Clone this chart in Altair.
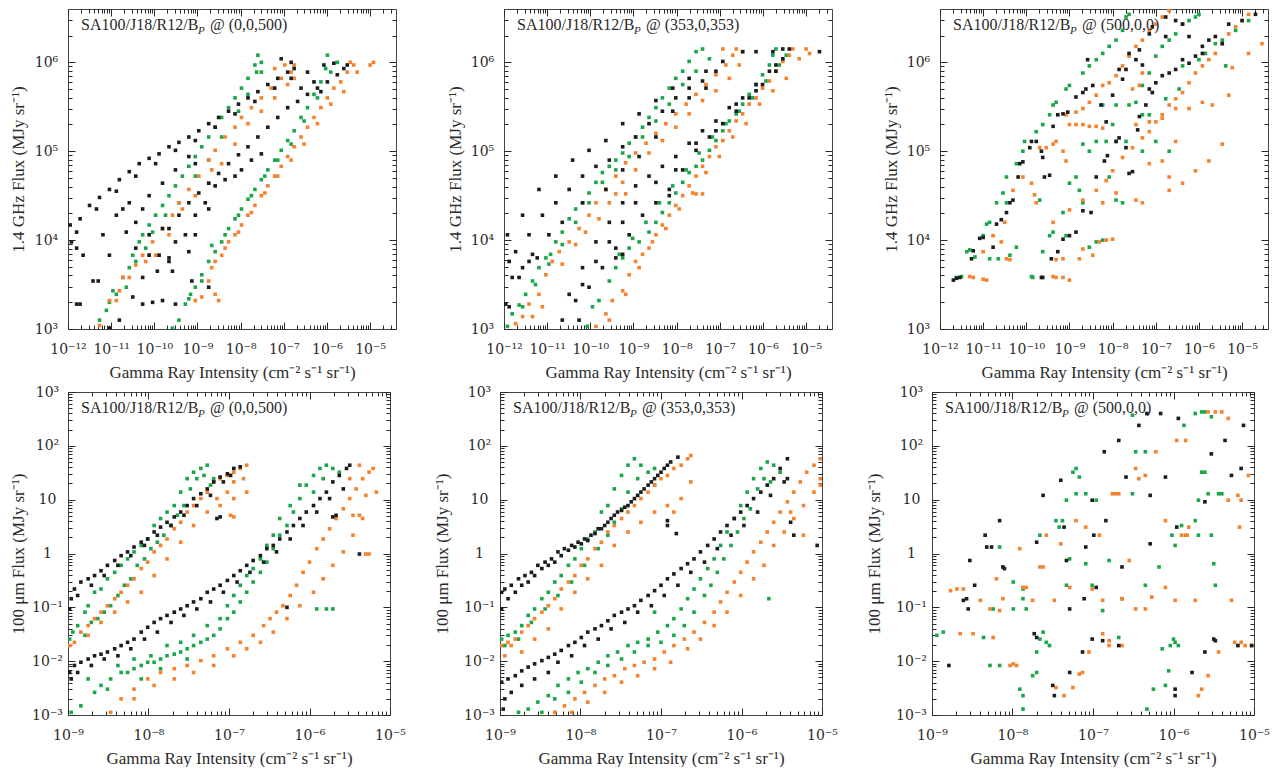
import math
import altair as alt
import pandas as pd

FONT = "Liberation Serif"
TICK_FONT = "DejaVu Serif"
INK = "#2a2a2a"
SERIES = ["green", "orange", "black"]
PALETTE = ["#1ba64c", "#f5822f", "#1c1c1c"]

TOP_X = (-12.0, -4.4)
TOP_Y = (3.0, 6.6)
BOT_X = (-9.0, -5.0)
BOT_Y = (-3.0, 3.0)

X_TITLE = "Gamma Ray Intensity (cm⁻² s⁻¹ sr⁻¹)"
RADIO_TITLE = "1.4 GHz Flux (MJy sr⁻¹)"
IR_TITLE = "100 μm Flux (MJy sr⁻¹)"
OBSERVERS = ["(0,0,500)", "(353,0,353)", "(500,0,0)"]

# ---- data: (log10 gamma-ray intensity, log10 flux) ----
tl_black = [(-11.95,4.17),(-11.72,4.24),(-11.50,4.39),(-11.27,4.48),(-11.04,4.57),(-10.81,4.68),(-10.58,4.77),(-10.35,4.86),(-10.12,4.92),(-9.89,4.97),(-9.66,5.05),(-9.43,5.10),(-9.20,5.16),(-8.97,5.23),(-8.74,5.31),(-8.51,5.38),(-8.28,5.45),(-8.05,5.53),(-7.83,5.60),(-7.60,5.67),(-7.37,5.75),(-7.14,5.82),(-6.91,5.89),(-6.76,5.93),
 (-11.80,4.09),(-11.34,4.35),(-10.88,4.55),(-10.43,4.72),(-9.97,4.86),(-9.51,5.01),(-9.05,5.12),(-8.59,5.27),(-8.13,5.42),(-7.67,5.56),(-7.21,5.71),(-6.83,5.82),
 (-11.92,3.98),(-11.80,3.91),(-11.65,3.83),(-11.19,4.06),(-11.04,3.83),(-10.88,4.28),(-10.73,4.35),(-10.58,4.42),(-10.43,4.20),(-10.27,4.35),(-10.12,4.50),(-9.81,4.64),(-9.51,4.79),(-9.20,4.94),(-9.05,4.86),(-10.43,3.91),(-10.12,3.83),(-9.89,3.83),(-9.66,3.76),(-10.12,4.06),(-9.81,4.13),(-10.65,4.09),
 (-11.80,3.28),(-11.72,3.28),(-11.42,3.54),(-11.30,3.54),(-10.81,3.10),(-10.50,3.36),(-10.27,3.28),(-10.04,3.30),(-9.81,3.32),(-9.51,3.28),(-10.27,3.58),(-9.93,3.65),(-9.66,3.80),(-9.28,4.06),(-9.20,3.87),(-11.04,3.01),
 (-9.66,4.13),(-9.43,4.28),(-9.20,4.42),(-8.97,4.53),(-8.74,4.64),(-8.51,4.75),(-8.28,4.86),(-8.05,4.96),(-7.83,5.05),(-7.60,5.16),(-7.37,5.27),(-7.14,5.38),(-6.91,5.49),(-6.68,5.56),(-6.45,5.64),(-6.22,5.71),(-5.99,5.78),(-5.76,5.86),(-5.61,5.93),(-5.53,5.97),
 (-8.36,4.68),(-8.13,4.72),(-7.98,4.79),(-7.75,4.90),(-7.52,4.97),(-8.59,4.61),(-8.82,4.42),(-9.05,4.28),
 (-9.51,3.98),(-9.05,4.06),(-8.74,4.35),(-9.58,3.65),(-9.13,3.54),(-8.74,3.47),
 (-6.45,5.89),(-6.07,5.97),(-5.84,5.99),(-6.14,5.67),(-6.60,5.71),(-6.30,5.78),(-7.06,6.04),(-6.83,6.00)]
tl_green = [(-11.27,3.10),(-11.11,3.21),(-11.04,3.30),(-10.88,3.39),(-10.73,3.58),(-10.58,3.69),(-10.50,3.83),(-10.35,3.98),(-10.27,4.06),(-10.12,4.17),(-9.97,4.28),(-9.81,4.39),(-9.66,4.50),(-9.51,4.61),(-9.35,4.72),(-9.20,4.83),(-9.05,4.94),(-8.90,5.05),(-8.74,5.16),(-8.59,5.27),(-8.44,5.38),(-8.28,5.49),(-8.13,5.60),(-7.98,5.71),(-7.83,5.82),(-7.67,5.97),(-7.60,6.08),
 (-10.96,3.43),(-10.65,3.47),(-10.43,3.76),(-10.20,3.91),(-10.04,4.09),(-9.74,4.28),(-9.43,4.42),(-9.05,4.72),(-8.74,4.90),(-8.44,5.16),(-8.05,5.45),(-7.83,5.64),(-7.52,5.89),(-7.52,6.00),(-7.63,5.89),
 (-9.58,3.01),(-9.43,3.10),(-9.28,3.28),(-9.16,3.39),(-9.05,3.47),(-8.90,3.61),(-8.74,3.76),(-8.59,3.87),(-8.44,3.98),(-8.28,4.13),(-8.13,4.24),(-7.98,4.35),(-7.83,4.46),(-7.67,4.57),(-7.52,4.68),(-7.37,4.79),(-7.21,4.90),(-7.06,5.01),(-6.91,5.12),(-6.76,5.23),(-6.60,5.38),(-6.45,5.49),(-6.30,5.64),(-6.14,5.78),(-6.03,5.93),(-5.99,6.08),
 (-8.67,3.94),(-8.36,4.06),(-8.05,4.28),(-7.75,4.50),(-7.44,4.72),(-7.14,4.90),(-6.83,5.08),(-6.53,5.34),(-6.22,5.60),(-5.91,5.89),(-5.76,6.00),(-9.20,3.34),(-8.90,3.54)]
tl_orange = [(-11.27,3.04),(-11.04,3.32),(-10.81,3.43),(-10.58,3.58),(-10.43,3.72),(-10.27,3.83),(-10.04,3.98),(-9.81,4.13),(-9.58,4.28),(-9.43,4.42),(-9.20,4.57),(-8.97,4.72),(-8.74,4.90),(-8.59,5.01),(-8.36,5.16),(-8.13,5.27),(-7.98,5.38),(-7.75,5.49),(-7.52,5.60),(-7.29,5.71),(-7.06,5.82),(-6.83,5.89),(-6.76,5.97),
 (-10.88,3.32),(-10.73,3.58),(-10.20,3.76),(-9.97,3.83),(-9.66,4.06),(-9.35,4.35),(-9.05,4.50),(-8.67,4.79),(-8.44,4.86),(-8.13,5.08),(-7.83,5.31),(-7.52,5.45),(-7.21,5.60),(-6.91,5.75),(-6.76,5.82),(-6.98,5.97),(-7.21,5.93),(-8.74,4.64),(-9.89,3.83),(-10.12,3.83),
 (-9.05,3.32),(-8.90,3.36),(-8.74,3.54),(-8.59,3.76),(-8.44,3.83),(-8.28,3.98),(-8.13,4.06),(-7.98,4.17),(-7.83,4.28),(-7.67,4.39),(-7.52,4.50),(-7.37,4.61),(-7.21,4.72),(-7.06,4.83),(-6.91,4.94),(-6.76,5.05),(-6.60,5.16),(-6.45,5.27),(-6.30,5.38),(-6.14,5.49),(-5.99,5.60),(-5.84,5.71),(-5.68,5.78),(-5.53,5.89),(-5.38,5.97),(-5.46,6.00),
 (-8.67,3.69),(-8.36,3.91),(-8.05,4.09),(-7.75,4.31),(-7.44,4.53),(-7.14,4.72),(-6.83,4.90),(-6.53,5.08),(-6.22,5.31),(-5.91,5.53),(-5.61,5.67),(-5.30,5.89),(-4.92,6.00),(-5.00,5.97),(-8.59,3.39),(-8.51,3.32)]

tm_black = [(-11.92,4.06),(-11.57,4.28),(-11.19,4.57),(-10.80,4.72),(-10.41,4.90),(-10.03,5.01),(-9.64,5.12),(-9.25,5.31),(-8.87,5.42),(-8.48,5.57),(-8.09,5.71),(-7.71,5.82),(-7.32,5.90),(-6.93,6.01),
 (-11.81,3.58),(-11.42,3.76),(-10.96,4.06),(-10.65,4.20),(-10.18,4.42),(-9.64,4.57),(-9.25,4.79),(-8.87,4.94),(-8.48,5.16),(-8.09,5.45),(-7.71,5.60),(-7.32,5.71),
 (-11.73,3.87),(-11.42,4.06),(-11.11,4.28),(-10.80,4.42),(-10.49,4.57),(-10.18,4.72),(-9.87,4.83),(-9.56,4.90),(-9.25,5.05),(-8.95,5.16),(-8.64,5.31),(-8.33,5.45),(-8.02,5.60),(-7.71,5.71),(-7.40,5.79),(-7.09,5.90),
 (-11.96,3.28),(-11.88,3.25),(-11.57,3.69),(-11.34,3.84),(-11.23,3.80),(-11.88,3.76),(-11.65,3.58),
 (-10.49,3.39),(-10.18,3.69),(-9.87,3.98),(-9.56,4.20),(-9.25,4.42),(-8.95,4.61),(-8.64,4.72),(-8.33,4.83),(-8.02,4.94),(-7.71,5.09),(-7.40,5.23),(-7.09,5.34),(-6.78,5.49),(-6.47,5.60),(-6.16,5.75),(-5.85,5.90),(-5.54,6.04),(-5.39,6.15),
 (-10.65,3.10),(-10.34,3.32),(-10.03,3.47),(-9.72,3.69),(-9.41,3.91),(-9.10,4.06),(-8.79,4.28),(-8.48,4.42),(-8.17,4.57),(-7.86,4.79),(-7.55,5.01),(-7.24,5.16),(-6.93,5.31),(-6.62,5.45),(-6.32,5.60),(-6.01,5.75),(-5.70,5.90),
 (-10.18,3.50),(-9.87,3.76),(-9.56,3.98),(-9.25,4.20),(-8.95,4.42),(-8.48,4.65),(-8.02,4.79),(-7.55,5.09),(-7.09,5.23),(-6.62,5.53),(-6.16,5.68),(-5.70,5.97),
 (-10.26,3.10),(-9.41,3.80),(-9.25,3.84),(-8.17,4.50),(-6.47,6.12),(-6.16,6.12),(-5.77,6.12),(-4.69,6.12),(-5.54,6.15)]
tm_green = [(-11.92,3.03),(-11.81,3.17),(-11.65,3.27),(-11.50,3.39),(-11.34,3.54),(-11.19,3.69),(-11.03,3.80),(-10.92,3.84),(-10.80,3.98),(-10.65,4.09),(-10.49,4.24),(-10.34,4.35),(-10.18,4.42),(-10.03,4.53),(-9.87,4.65),(-9.72,4.76),(-9.56,4.83),(-9.41,4.90),(-9.25,4.98),(-9.10,5.09),(-8.95,5.16),(-8.79,5.27),(-8.64,5.38),(-8.48,5.49),(-8.33,5.60),(-8.17,5.71),(-8.02,5.82),(-7.86,5.90),(-7.71,6.01),(-7.55,6.12),(-7.40,6.15),
 (-11.57,3.25),(-11.27,3.50),(-10.96,3.73),(-10.65,3.95),(-10.34,4.20),(-10.03,4.42),(-9.72,4.65),(-9.41,4.79),(-9.10,4.94),(-8.79,5.16),(-8.48,5.34),(-8.17,5.53),(-7.86,5.75),(-7.55,5.90),(-7.24,6.04),
 (-10.07,3.03),(-9.95,3.25),(-9.80,3.32),(-9.56,3.54),(-9.41,3.69),(-9.25,3.80),(-9.10,3.91),(-8.87,3.98),(-8.64,4.09),(-8.48,4.20),(-8.33,4.31),(-8.17,4.42),(-8.02,4.53),(-7.86,4.65),(-7.71,4.76),(-7.55,4.83),(-7.40,4.90),(-7.24,5.01),(-7.09,5.12),(-6.93,5.23),(-6.78,5.34),(-6.62,5.42),(-6.47,5.53),(-6.32,5.64),(-6.16,5.75),(-6.01,5.86),(-5.85,5.97),(-5.77,6.08),(-5.70,6.15),
 (-9.33,3.84),(-9.02,4.02),(-8.71,4.20),(-8.40,4.42),(-8.09,4.61),(-7.78,4.79),(-7.48,4.98),(-7.17,5.16),(-6.86,5.31),(-6.55,5.45),(-6.24,5.60),(-5.93,5.79),(-5.62,5.97),(-5.46,6.08)]
tm_orange = [(-11.73,3.06),(-11.57,3.14),(-11.42,3.28),(-11.19,3.39),(-11.03,3.61),(-10.88,3.76),(-10.72,3.87),(-10.49,3.98),(-10.26,4.13),(-10.03,4.28),(-9.87,4.42),(-9.64,4.57),(-9.41,4.72),(-9.18,4.87),(-8.95,4.98),(-8.71,5.09),(-8.48,5.20),(-8.25,5.31),(-8.02,5.42),(-7.78,5.53),(-7.55,5.64),(-7.32,5.75),(-7.09,5.86),(-6.86,5.97),(-6.70,6.08),(-6.62,6.15),
 (-11.34,3.14),(-11.11,3.25),(-10.65,3.73),(-10.34,3.95),(-10.11,4.09),(-9.80,4.24),(-9.56,4.42),(-9.25,4.65),(-8.95,4.79),(-8.64,4.98),(-8.33,5.12),(-8.02,5.27),(-7.71,5.42),(-7.40,5.57),(-7.09,5.68),(-6.78,5.82),(-6.55,5.97),(-9.41,4.52),(-9.18,4.52),(-6.47,6.12),(-6.93,6.15),
 (-9.87,3.03),(-9.64,3.17),(-9.49,3.32),(-9.25,3.43),(-9.10,3.61),(-8.95,3.76),(-8.79,3.84),(-8.64,3.91),(-8.48,4.06),(-8.33,4.17),(-8.17,4.28),(-8.02,4.39),(-7.86,4.50),(-7.71,4.61),(-7.55,4.72),(-7.40,4.83),(-7.24,4.94),(-7.09,5.05),(-6.93,5.12),(-6.78,5.23),(-6.62,5.34),(-6.47,5.42),(-6.32,5.53),(-6.16,5.60),(-6.01,5.71),(-5.85,5.79),(-5.70,5.90),(-5.54,6.01),(-5.39,6.08),(-5.31,6.15),
 (-9.56,3.10),(-9.18,3.39),(-8.87,3.69),(-8.56,3.98),(-8.25,4.13),(-7.94,4.35),(-7.63,4.53),(-7.32,4.76),(-7.01,4.94),(-6.70,5.16),(-6.39,5.31),(-6.08,5.53),(-5.77,5.68),(-5.46,5.82),(-5.16,6.04),(-5.00,6.15),(-4.92,6.10),(-7.55,4.52),(-7.40,4.52)]

tr_black = [(-11.69,3.55),(-11.62,3.57),(-11.54,3.58),(-11.27,3.79),(-11.23,3.88),(-11.08,4.02),(-11.00,4.03),(-10.77,3.92),(-10.69,4.18),(-10.58,4.23),(-10.46,4.31),(-10.38,4.42),(-10.31,4.45),(-10.19,4.71),(-10.15,4.86),(-10.08,4.88),(-9.92,5.04),(-9.88,5.11),(-9.77,5.11),(-9.65,5.00),(-9.62,4.93),(-9.58,4.71),(-9.46,4.73),(-9.38,5.28),(-9.27,5.41),(-9.15,5.42),(-9.04,5.44),(-8.85,5.61),(-8.69,5.66),(-8.62,5.70),(-8.58,6.03),(-8.46,5.74),(-8.27,5.52),(-8.15,5.33),(-8.00,5.63),(-7.85,5.92),(-7.77,5.81),(-7.69,5.92),(-7.62,6.10),(-7.46,6.03),(-7.38,6.14),(-7.31,5.97),(-7.15,6.32),(-7.08,6.40),(-6.77,6.51),(-6.54,6.47),(-6.38,6.43),(-6.23,6.29),(-6.08,6.07),(-5.92,6.18),(-5.77,6.25),(-5.62,6.29),(-5.46,6.21),(-5.31,6.43),(-5.00,6.47),(-4.69,6.54),
 (-9.65,3.58),(-9.62,3.58),(-9.42,3.79),(-9.27,3.87),(-9.15,4.01),(-9.00,4.05),(-8.85,4.09),(-8.69,4.33),(-8.50,4.31),(-8.38,4.71),(-8.19,4.89),(-8.12,4.95),(-7.92,5.11),(-7.85,5.15),(-7.69,5.04),(-7.62,4.75),(-7.54,4.77),(-7.42,5.24),(-7.38,5.39),(-7.23,5.52),(-7.15,5.70),(-7.08,5.66),(-7.00,5.77),(-6.85,5.85),(-6.69,5.88),(-6.54,5.92),(-6.38,6.03),(-6.23,5.99),(-6.77,6.29),(-5.92,6.10)]
tr_green = [(-11.62,3.58),(-11.50,3.59),(-11.38,3.87),(-11.31,3.89),(-11.19,3.81),(-11.00,4.05),(-10.92,4.18),(-10.85,4.20),(-10.69,4.42),(-10.54,4.53),(-10.46,4.71),(-10.23,4.86),(-10.08,5.00),(-10.04,5.11),(-9.77,5.22),(-9.62,5.30),(-9.46,5.41),(-9.38,5.52),(-9.31,5.55),(-9.08,5.70),(-9.00,5.74),(-8.69,5.88),(-8.54,5.96),(-8.38,6.03),(-8.23,6.10),(-8.08,6.18),(-7.92,6.25),(-7.77,6.36),(-7.69,6.51),(-7.62,6.54),
 (-10.46,4.42),(-10.38,3.83),(-10.23,3.92),(-9.88,3.59),(-9.85,3.58),(-9.62,3.87),(-9.46,4.05),(-9.38,4.09),(-9.15,4.31),(-9.08,4.05),(-9.00,4.64),(-8.85,4.71),(-8.77,4.56),(-8.69,4.42),(-8.54,3.92),(-8.38,3.98),(-8.23,4.00),(-8.69,5.08),(-8.54,5.00),(-8.38,5.11),(-8.15,5.11),(-8.00,5.30),(-7.92,5.52),(-7.62,5.52),(-7.46,5.55),(-7.31,5.74),(-7.15,5.88),(-7.00,6.07),(-6.85,6.18),(-6.69,6.25),(-6.54,6.32),(-6.38,6.43),(-6.23,6.47),(-6.08,6.51),(-6.00,6.54),
 (-8.23,5.52),(-7.92,5.11),(-7.69,5.11),(-7.31,5.00),(-7.00,5.11),(-6.69,5.00),(-8.08,4.71),(-7.92,4.45),(-7.77,4.42),(-7.31,5.41),(-7.15,5.41),(-6.77,5.59),(-6.46,5.70),(-6.38,5.96),(-6.00,6.03),(-5.85,6.10),(-5.62,6.21),(-5.46,6.25),(-5.38,5.96),(-5.15,6.36),(-4.85,6.47),(-10.85,3.79),(-10.65,3.79),(-9.69,4.45)]
tr_orange = [(-11.31,3.59),(-11.23,3.58),(-11.00,3.56),(-10.92,3.55),(-11.00,3.87),(-10.77,4.05),(-10.58,3.98),(-10.46,3.79),(-10.38,3.78),(-10.50,4.20),(-10.31,4.56),(-10.08,4.71),(-9.88,4.64),(-9.81,4.51),(-9.77,4.42),(-9.69,5.04),(-9.54,5.04),(-9.38,5.08),(-9.31,5.11),(-9.15,5.00),(-9.08,4.89),(-9.00,5.30),(-8.85,5.30),(-8.69,5.30),(-8.54,5.28),(-8.38,5.28),(-8.23,5.26),
 (-9.08,5.41),(-8.85,5.44),(-8.69,5.48),(-8.54,5.55),(-8.38,5.63),(-8.23,5.74),(-8.08,5.77),(-7.92,5.85),(-7.77,5.96),(-7.62,6.07),(-7.46,6.18),(-7.31,6.25),(-7.15,6.36),(-7.00,6.43),(-6.85,6.51),(-6.69,6.58),
 (-9.38,3.59),(-9.31,3.58),(-9.15,3.58),(-9.00,3.55),(-9.31,3.78),(-9.15,3.79),(-8.77,3.79),(-8.69,3.90),(-8.46,3.83),(-8.31,3.98),(-8.15,4.00),(-8.00,4.01),(-9.38,4.20),(-9.00,4.34),(-8.69,4.45),(-8.38,4.56),(-8.15,4.67),(-8.23,4.42),(-7.92,4.53),(-8.00,4.78),(-7.77,4.93),(-7.54,5.04),(-7.31,5.15),(-7.15,5.22),(-7.00,5.33),(-6.85,5.41),(-6.69,5.52),(-6.54,5.59),(-6.38,5.66),(-6.23,5.77),(-6.08,5.88),(-5.92,5.96),(-5.77,6.03),(-5.62,6.10),(-5.46,6.21),(-5.31,6.32),(-5.15,6.40),(-5.00,6.47),(-4.85,6.54),
 (-7.46,4.45),(-7.31,4.42),(-6.69,4.56),(-6.38,4.64),(-6.08,4.78),(-5.77,4.89),(-5.46,5.08),(-5.31,5.63),(-5.23,5.94),(-4.85,6.10),(-4.54,6.21),(-7.46,5.30),(-7.15,5.33),(-6.85,5.37),(-6.54,5.48),(-6.23,5.48),(-5.92,5.55),(-5.69,5.52),(-7.15,4.86),(-6.85,4.89),(-6.69,4.71),(-6.54,5.11),(-7.54,5.70),(-7.38,5.74),(-7.31,5.88)]

bl_black = [(-8.98,-1.03),(-8.96,-0.84),(-8.92,-0.66),(-8.84,-0.53),(-8.75,-0.47),(-8.67,-0.41),(-8.59,-0.32),(-8.51,-0.22),(-8.42,-0.13),(-8.34,-0.04),(-8.26,0.03),(-8.18,0.12),(-8.09,0.21),(-8.01,0.27),(-7.93,0.40),(-7.85,0.49),(-7.77,0.58),(-7.68,0.68),(-7.60,0.77),(-7.52,0.89),(-7.44,1.02),(-7.35,1.11),(-7.27,1.20),(-7.19,1.33),(-7.11,1.42),(-7.02,1.48),(-6.94,1.58),(-6.86,1.61),(-7.15,0.65),(-7.11,0.68),
 (-8.88,-0.78),(-8.71,-0.59),(-8.55,-0.41),(-8.38,-0.22),(-8.22,-0.04),(-8.05,0.15),(-7.89,0.34),(-7.72,0.52),(-7.56,0.71),(-7.40,0.89),(-7.23,1.08),(-7.07,1.33),(-6.98,1.45),
 (-8.98,-2.21),(-8.92,-2.08),(-8.84,-2.02),(-8.75,-1.96),(-8.67,-1.90),(-8.59,-1.87),(-8.51,-1.83),(-8.42,-1.77),(-8.34,-1.71),(-8.26,-1.65),(-8.18,-1.59),(-8.09,-1.46),(-8.01,-1.37),(-7.93,-1.28),(-7.85,-1.21),(-7.77,-1.15),(-7.68,-1.09),(-7.60,-1.03),(-7.52,-0.97),(-7.44,-0.90),(-7.35,-0.84),(-7.27,-0.72),(-7.19,-0.66),(-7.11,-0.59),(-7.02,-0.50),(-6.94,-0.41),(-6.86,-0.32),(-6.78,-0.22),(-6.70,-0.13),(-6.61,-0.04),(-6.53,0.09),(-6.45,0.15),(-6.37,0.27),(-6.28,0.40),(-6.20,0.52),(-6.12,0.65),(-6.04,0.77),(-5.95,0.89),(-5.87,1.02),(-5.79,1.14),(-5.71,1.33),(-5.63,1.45),(-5.54,1.58),(-5.50,1.64),
 (-8.96,-2.33),(-8.88,-2.21),(-8.71,-2.08),(-8.55,-1.96),(-8.38,-1.90),(-8.22,-1.77),(-8.05,-1.59),(-7.89,-1.46),(-7.72,-1.28),(-7.56,-1.15),(-7.40,-1.03),(-7.23,-0.90),(-7.07,-0.72),(-6.90,-0.53),(-6.74,-0.35),(-6.57,-0.16),(-6.41,0.03),(-6.24,0.27),(-6.08,0.52),(-5.91,0.77),(-5.75,1.02),(-5.58,1.20),(-5.38,-0.01),(-5.67,0.71),(-5.71,0.68),(-6.28,-1.00)]
bl_green = [(-8.98,-1.59),(-8.94,-1.46),(-8.88,-1.34),(-8.79,-1.09),(-8.75,-0.97),(-8.67,-0.72),(-8.59,-0.66),(-8.51,-0.47),(-8.42,-0.35),(-8.34,-0.22),(-8.26,-0.10),(-8.18,0.03),(-8.09,0.15),(-8.01,0.27),(-7.93,0.52),(-7.85,0.65),(-7.77,0.77),(-7.68,0.89),(-7.60,1.14),(-7.52,1.39),(-7.44,1.51),(-7.35,1.58),(-7.27,1.64),(-7.19,1.39),
 (-8.79,-1.52),(-8.71,-1.28),(-8.63,-1.21),(-8.55,-1.09),(-8.47,-0.97),(-8.38,-0.78),(-8.30,-0.59),(-8.22,-0.47),(-8.14,-0.22),(-8.05,-0.10),(-7.97,0.09),(-7.89,0.21),(-7.81,0.34),(-7.72,0.52),(-7.64,0.71),(-7.56,0.89),(-7.48,1.20),(-7.40,1.39),(-7.31,1.45),(-7.23,1.27),
 (-8.96,-2.95),(-8.84,-2.83),(-8.67,-2.58),(-8.59,-2.45),(-8.47,-2.33),(-8.34,-2.21),(-8.26,-2.21),(-8.18,-2.14),(-8.09,-2.08),(-8.01,-2.02),(-7.93,-2.02),(-7.85,-1.96),(-7.77,-1.90),(-7.68,-1.87),(-7.60,-1.83),(-7.52,-1.77),(-7.44,-1.71),(-7.35,-1.65),(-7.27,-1.59),(-7.19,-1.52),(-7.11,-1.40),(-7.02,-1.21),(-6.94,-1.09),(-6.86,-0.90),(-6.78,-0.72),(-6.70,-0.53),(-6.61,-0.35),(-6.53,-0.16),(-6.45,0.09),(-6.37,0.34),(-6.28,0.52),(-6.20,0.77),(-6.12,1.02),(-6.04,1.27),(-5.95,1.45),(-5.87,1.58),(-5.79,1.64),(-5.71,1.58),(-5.63,1.51),
 (-8.75,-2.33),(-8.51,-2.52),(-8.38,-2.08),(-8.18,-1.96),(-7.97,-1.90),(-7.77,-1.71),(-7.60,-1.65),(-7.44,-1.52),(-7.27,-1.34),(-7.11,-1.21),(-7.02,-0.97),(-6.94,-0.78),(-6.86,-0.59),(-6.78,-0.41),(-6.70,-0.28),(-6.61,-0.10),(-6.53,0.15),(-6.45,0.34),(-6.37,0.65),(-6.24,0.89),(-6.12,1.27),(-5.95,1.14),(-5.83,1.39),(-5.91,-1.03),(-5.79,-1.03),(-5.71,-1.03),(-8.09,-2.33),(-7.85,-2.14),(-7.52,-1.96)]
bl_orange = [(-8.98,-1.71),(-8.92,-1.65),(-8.84,-1.46),(-8.75,-1.34),(-8.67,-1.21),(-8.59,-1.09),(-8.51,-0.97),(-8.42,-0.84),(-8.34,-0.72),(-8.26,-0.59),(-8.18,-0.47),(-8.09,-0.28),(-8.01,-0.16),(-7.93,0.03),(-7.85,0.15),(-7.77,0.27),(-7.68,0.46),(-7.60,0.58),(-7.52,0.77),(-7.44,0.89),(-7.35,1.02),(-7.27,1.14),(-7.19,1.33),(-7.11,1.39),(-7.02,1.45),(-6.94,1.51),(-6.86,1.58),(-6.78,1.64),(-7.02,1.14),(-6.94,1.33),(-7.15,1.02),(-6.78,1.14),(-6.98,0.71),(-6.94,0.68),
 (-8.75,-1.52),(-8.59,-1.28),(-8.42,-1.09),(-8.26,-0.90),(-8.09,-0.72),(-7.93,-0.41),(-7.77,-0.10),(-7.60,0.21),(-7.44,0.52),(-7.27,0.77),(-7.11,0.89),(-6.94,1.02),(-6.82,1.39),
 (-8.47,-2.95),(-8.34,-2.70),(-8.18,-2.52),(-8.01,-2.33),(-7.85,-2.21),(-7.68,-2.14),(-7.52,-2.08),(-7.35,-1.99),(-7.19,-1.90),(-7.02,-1.77),(-6.86,-1.65),(-6.70,-1.52),(-6.57,-1.34),(-6.49,-1.21),(-6.41,-1.09),(-6.33,-0.97),(-6.24,-0.78),(-6.16,-0.59),(-6.08,-0.35),(-6.00,-0.16),(-5.91,0.09),(-5.83,0.27),(-5.75,0.46),(-5.67,0.65),(-5.58,0.83),(-5.50,1.02),(-5.42,1.20),(-5.34,1.39),(-5.26,1.51),(-5.21,1.58),(-5.30,1.08),(-5.17,1.14),(-5.38,0.71),
 (-8.18,-2.70),(-7.93,-2.45),(-7.68,-2.33),(-7.44,-2.21),(-7.19,-2.08),(-6.94,-1.90),(-6.78,-1.77),(-6.61,-1.65),(-6.45,-1.46),(-6.28,-1.21),(-6.12,-0.97),(-5.95,-0.72),(-5.83,-0.47),(-5.71,-0.22),(-5.58,0.03),(-5.46,0.34),(-5.34,0.65),(-5.30,-0.01),(-5.26,-0.01),(-5.46,0.71),(-5.50,1.39),(-5.38,1.64)]

bm_black = [(-8.98,-0.72),(-8.94,-0.66),(-8.86,-0.59),(-8.77,-0.47),(-8.69,-0.41),(-8.61,-0.35),(-8.53,-0.22),(-8.44,-0.16),(-8.36,-0.10),(-8.28,0.03),(-8.20,0.09),(-8.11,0.15),(-8.03,0.21),(-7.95,0.27),(-7.87,0.34),(-7.78,0.46),(-7.70,0.52),(-7.62,0.65),(-7.54,0.77),(-7.45,0.86),(-7.37,0.96),(-7.29,1.08),(-7.21,1.20),(-7.12,1.33),(-7.04,1.45),(-6.96,1.58),(-6.88,1.70),(-6.79,1.79),
 (-8.98,-1.03),(-8.90,-0.84),(-8.81,-0.72),(-8.73,-0.59),(-8.65,-0.53),(-8.57,-0.41),(-8.48,-0.28),(-8.40,-0.22),(-8.32,-0.16),(-8.24,-0.04),(-8.15,0.06),(-8.07,0.12),(-7.99,0.18),(-7.91,0.24),(-7.82,0.37),(-7.74,0.46),(-7.66,0.58),(-7.58,0.71),(-7.49,0.80),(-7.41,0.89),(-7.33,1.02),(-7.25,1.14),(-7.16,1.27),(-7.08,1.39),(-7.00,1.51),(-6.92,1.64),(-6.92,0.61),(-6.81,0.37),
 (-8.98,-2.39),(-8.90,-2.33),(-8.81,-2.27),(-8.73,-2.18),(-8.65,-2.11),(-8.57,-2.05),(-8.48,-1.99),(-8.40,-1.93),(-8.32,-1.87),(-8.24,-1.80),(-8.15,-1.71),(-8.07,-1.65),(-7.99,-1.56),(-7.91,-1.46),(-7.82,-1.40),(-7.74,-1.34),(-7.66,-1.25),(-7.58,-1.15),(-7.49,-1.09),(-7.41,-1.03),(-7.33,-0.97),(-7.25,-0.87),(-7.16,-0.78),(-7.08,-0.69),(-7.00,-0.59),(-6.92,-0.47),(-6.84,-0.38),(-6.75,-0.28),(-6.67,-0.19),(-6.59,-0.10),(-6.51,0.03),(-6.42,0.15),(-6.34,0.27),(-6.26,0.40),(-6.18,0.52),(-6.09,0.65),(-6.01,0.77),(-5.93,0.89),(-5.85,1.02),(-5.76,1.14),(-5.68,1.27),(-5.60,1.39),(-5.52,1.58),(-5.43,1.76),
 (-8.94,-2.70),(-8.86,-2.58),(-8.73,-2.45),(-8.57,-2.33),(-8.40,-2.21),(-8.28,-2.02),(-8.11,-1.90),(-7.95,-1.71),(-7.78,-1.59),(-7.62,-1.40),(-7.45,-1.28),(-7.29,-1.09),(-7.12,-0.97),(-6.96,-0.78),(-6.79,-0.59),(-6.63,-0.35),(-6.46,-0.16),(-6.30,0.09),(-6.13,0.34),(-5.97,0.52),(-5.80,0.77),(-5.64,1.08),(-5.47,1.33),(-8.96,-2.89),(-5.35,0.34),(-5.06,0.15),(-5.39,0.58),(-5.43,1.39),(-6.92,0.52)]
bm_green = [(-8.98,-1.59),(-8.90,-1.52),(-8.81,-1.46),(-8.73,-1.34),(-8.65,-1.15),(-8.57,-1.03),(-8.48,-0.84),(-8.40,-0.72),(-8.32,-0.53),(-8.24,-0.41),(-8.15,-0.22),(-8.07,-0.10),(-7.99,0.09),(-7.91,0.27),(-7.82,0.40),(-7.74,0.77),(-7.66,0.89),(-7.58,1.20),(-7.49,1.45),(-7.41,1.64),(-7.33,1.76),(-7.25,1.64),
 (-8.94,-1.71),(-8.77,-1.59),(-8.61,-1.28),(-8.44,-1.03),(-8.28,-0.78),(-8.11,-0.53),(-7.95,-0.22),(-7.78,0.09),(-7.66,0.34),(-7.58,0.58),(-7.49,0.83),(-7.41,1.14),(-7.29,1.39),(-7.16,1.51),(-7.08,1.58),(-7.08,1.27),
 (-8.77,-2.95),(-8.65,-2.89),(-8.53,-2.76),(-8.40,-2.64),(-8.28,-2.45),(-8.15,-2.33),(-8.03,-2.21),(-7.91,-2.14),(-7.78,-2.02),(-7.66,-1.90),(-7.54,-1.83),(-7.41,-1.71),(-7.29,-1.65),(-7.16,-1.59),(-7.04,-1.46),(-6.92,-1.34),(-6.84,-1.21),(-6.75,-1.03),(-6.67,-0.84),(-6.59,-0.66),(-6.51,-0.47),(-6.42,-0.28),(-6.34,-0.10),(-6.26,0.15),(-6.18,0.40),(-6.09,0.65),(-6.01,0.89),(-5.93,1.14),(-5.85,1.39),(-5.76,1.58),(-5.68,1.70),(-5.60,1.64),(-5.52,1.51),
 (-8.48,-2.95),(-8.32,-2.70),(-8.15,-2.58),(-7.99,-2.39),(-7.82,-2.21),(-7.66,-2.08),(-7.49,-1.96),(-7.33,-1.83),(-7.16,-1.71),(-7.08,-1.09),(-7.00,-1.65),(-6.84,-1.52),(-6.71,-1.34),(-6.59,-1.09),(-6.46,-0.78),(-6.38,-0.59),(-6.30,-0.35),(-6.22,-0.10),(-6.13,0.15),(-6.05,0.40),(-5.97,0.65),(-5.89,0.83),(-5.80,1.20),(-5.72,1.39),(-5.64,1.33),(-5.66,-0.84)]
bm_orange = [(-8.98,-1.71),(-8.90,-1.65),(-8.81,-1.59),(-8.73,-1.46),(-8.65,-1.34),(-8.57,-1.21),(-8.48,-1.09),(-8.40,-0.97),(-8.32,-0.84),(-8.24,-0.66),(-8.15,-0.53),(-8.07,-0.41),(-7.99,-0.22),(-7.91,-0.10),(-7.82,0.09),(-7.74,0.21),(-7.66,0.40),(-7.58,0.52),(-7.49,0.65),(-7.41,0.77),(-7.33,0.89),(-7.25,1.02),(-7.16,1.14),(-7.08,1.27),(-7.00,1.39),(-6.92,1.45),(-6.84,1.58),(-6.75,1.64),(-6.67,1.76),(-6.63,1.82),
 (-8.73,-1.83),(-8.57,-1.59),(-8.40,-1.40),(-8.24,-1.03),(-8.07,-0.72),(-7.91,-0.47),(-7.74,-0.22),(-7.58,0.15),(-7.41,0.40),(-7.25,0.58),(-7.08,0.77),(-6.92,0.89),(-6.84,0.77),(-6.75,1.02),(-6.63,1.33),(-8.94,-1.90),(-8.86,-1.71),
 (-8.32,-2.95),(-8.20,-2.83),(-8.07,-2.70),(-7.95,-2.58),(-7.82,-2.45),(-7.70,-2.33),(-7.58,-2.27),(-7.45,-2.14),(-7.33,-2.08),(-7.21,-2.02),(-7.08,-1.96),(-6.96,-1.83),(-6.84,-1.71),(-6.71,-1.59),(-6.59,-1.46),(-6.46,-1.28),(-6.34,-1.09),(-6.26,-0.90),(-6.18,-0.72),(-6.09,-0.53),(-6.01,-0.35),(-5.93,-0.16),(-5.85,0.03),(-5.76,0.21),(-5.68,0.40),(-5.60,0.58),(-5.52,0.77),(-5.43,0.96),(-5.35,1.14),(-5.27,1.33),(-5.19,1.51),(-5.10,1.64),(-5.02,1.76),(-5.02,1.39),
 (-8.11,-2.95),(-7.91,-2.76),(-7.70,-2.58),(-7.49,-2.39),(-7.29,-2.27),(-7.08,-2.14),(-6.88,-2.02),(-6.67,-1.77),(-6.51,-1.59),(-6.34,-1.34),(-6.18,-1.09),(-6.01,-0.78),(-5.85,-0.47),(-5.72,-0.22),(-5.60,0.15),(-5.47,0.40),(-5.35,0.65),(-5.23,0.89),(-5.10,1.14),(-5.23,0.34),(-5.39,0.77),(-5.02,1.27)]

br_black = [(-8.79,-2.08),(-8.61,-0.87),(-8.57,-0.84),(-8.55,-1.03),(-8.53,-0.13),(-8.47,-0.59),(-8.34,0.34),(-8.32,0.12),(-8.26,0.12),(-8.16,0.61),(-8.12,-0.25),(-8.10,-0.28),(-7.73,-1.49),(-7.70,-1.56),(-7.70,0.21),(-7.62,1.08),(-7.50,-2.45),(-7.48,-2.64),(-7.40,1.36),(-7.36,0.49),(-7.33,-0.13),(-7.29,-1.03),(-7.29,-2.21),(-7.13,-1.83),(-7.11,-0.84),(-7.09,0.12),(-7.01,-1.59),(-7.01,0.99),(-6.99,0.34),(-6.96,-0.63),(-6.88,-1.62),(-6.86,1.89),(-6.84,0.61),(-6.68,2.10),(-6.68,-1.71),(-6.64,-0.25),(-6.59,1.42),(-6.43,2.38),(-6.33,2.60),(-6.29,1.08),(-6.29,0.18),(-6.16,2.60),(-6.10,1.42),(-5.98,-2.64),(-5.98,-2.52),(-5.96,0.49),(-5.94,2.51),(-5.77,-2.21),(-5.61,-1.83),(-5.61,0.96),(-5.53,1.85),(-5.48,-1.62),(-5.36,2.10),(-5.28,1.45),(-5.20,-1.71),(-5.16,1.58),(-5.13,2.38),(-5.03,-1.71),(-5.50,-1.59)]
br_green = [(-8.94,-1.52),(-8.86,-1.46),(-8.36,-1.56),(-8.28,-2.08),(-8.24,-1.03),(-8.16,-2.08),(-8.16,0.12),(-7.99,-0.53),(-7.99,-1.03),(-7.87,-0.66),(-7.87,-0.84),(-7.83,-1.03),(-7.91,-2.52),(-7.87,-2.64),(-7.87,-2.89),(-7.75,-2.27),(-7.70,-1.83),(-7.66,-1.59),(-7.66,0.34),(-7.62,-1.46),(-7.58,-1.65),(-7.54,-1.71),(-7.70,-2.21),(-7.46,0.61),(-7.42,0.49),(-7.38,0.61),(-7.33,0.99),(-7.33,-0.59),(-7.29,-0.10),(-7.25,1.51),(-7.21,1.58),(-7.21,1.11),(-7.17,1.42),(-7.09,1.11),(-7.09,-0.19),(-7.01,-0.59),(-6.96,0.99),(-6.88,-1.06),(-6.80,-0.13),(-6.68,-1.56),(-6.64,-0.84),(-6.51,1.11),(-6.51,2.57),(-6.47,1.89),(-6.35,1.89),(-6.35,-0.59),(-6.33,-2.89),(-6.25,-2.52),(-6.18,-0.25),(-6.14,-1.77),(-6.10,-2.45),(-6.06,-2.18),(-6.04,-1.71),(-6.02,0.34),(-6.00,-1.59),(-5.98,-1.65),(-5.98,0.15),(-5.94,-1.71),(-5.90,0.52),(-5.87,2.38),(-5.73,0.61),(-5.69,0.99),(-5.69,0.34),(-5.65,1.51),(-5.65,2.63),(-5.61,1.51),(-5.57,1.11),(-5.53,0.34),(-5.50,-0.19),(-5.48,-0.59),(-5.44,1.11),(-5.40,1.11),(-5.73,2.60),(-5.61,2.63),(-5.53,2.54)]
br_orange = [(-8.77,-0.69),(-8.69,-0.66),(-8.61,-0.66),(-8.65,-1.49),(-8.49,-1.49),(-8.40,-0.87),(-8.28,-1.03),(-8.24,-1.56),(-8.20,-0.47),(-8.16,-1.06),(-8.12,-0.84),(-8.03,-2.08),(-7.99,-2.05),(-7.95,-2.08),(-7.91,0.09),(-7.87,-0.63),(-7.83,-0.63),(-7.75,-0.87),(-7.66,-0.25),(-7.62,-0.25),(-7.58,0.34),(-7.48,-0.87),(-7.46,-2.49),(-7.40,0.18),(-7.36,-2.64),(-7.29,-0.63),(-7.25,-2.49),(-7.21,0.61),(-7.17,-2.24),(-7.13,-2.21),(-7.09,0.49),(-7.05,-1.83),(-7.01,-0.66),(-6.92,0.34),(-6.88,-1.49),(-6.88,-0.87),(-6.80,-1.62),(-6.80,-1.71),(-6.76,1.11),(-6.72,1.11),(-6.68,1.11),(-6.64,-1.71),(-6.64,-0.84),(-6.55,-0.13),(-6.47,1.58),(-6.47,-1.03),(-6.43,1.39),(-6.35,1.45),(-6.35,-1.03),(-6.27,-0.81),(-6.22,1.89),(-6.10,0.61),(-6.10,-0.63),(-5.98,-0.87),(-5.96,2.10),(-5.85,2.10),(-5.85,0.34),(-5.81,0.49),(-5.73,-0.87),(-5.69,-2.64),(-5.65,-2.52),(-5.57,-2.27),(-5.57,2.63),(-5.48,2.63),(-5.44,-1.83),(-5.40,2.63),(-5.32,0.99),(-5.32,2.51),(-5.28,-0.87),(-5.24,-1.65),(-5.20,1.08),(-5.18,0.49),(-5.16,-1.65),(-5.11,-1.71),(-5.07,1.45),(-5.03,-1.71),(-5.16,0.99),(-5.90,0.34),(-5.83,0.34)]

SUP = str.maketrans("-0123456789", "⁻⁰¹²³⁴⁵⁶⁷⁸⁹")


def power_label(e):
    if e == 0:
        return "1"
    if e == 1:
        return "10"
    return "10" + str(e).translate(SUP)


def label_expr(exps):
    parts = [f"abs(log(datum.value)/LN10-({e}))<0.01 ? '{power_label(e)}'" for e in exps]
    return " : ".join(parts) + " : ''"


def log_ticks(lo, hi):
    major, minor = [], []
    for e in range(math.floor(lo), math.ceil(hi) + 1):
        for k in range(1, 10):
            v = k * 10.0 ** e
            lv = math.log10(v)
            if lo - 1e-9 <= lv <= hi + 1e-9:
                (major if k == 1 else minor).append(v)
    return major, minor


def tick_axis(orient, values, size):
    return alt.Axis(orient=orient, values=values, labels=False, title=None, domain=False,
                    grid=False, ticks=True, tickSize=size, tickColor=INK, tickWidth=1,
                    offset=-size, minExtent=0, maxExtent=0)


def panel(black, green, orange, xr, yr, ytitle, observer, w, h, ext, tpad, lpad):
    rows = []
    for name, pts in zip(SERIES, (green, orange, black)):
        for lx, ly in pts:
            rows.append({"gamma": 10.0 ** lx, "flux": 10.0 ** ly, "series": name})
    df = pd.DataFrame(rows)
    anchor = pd.DataFrame({"gamma": [10.0 ** (xr[0] + 0.5)], "flux": [10.0 ** (yr[0] + 0.5)]})
    xs = alt.Scale(type="log", domain=[10.0 ** xr[0], 10.0 ** xr[1]], nice=False)
    ys = alt.Scale(type="log", domain=[10.0 ** yr[0], 10.0 ** yr[1]], nice=False)
    xmaj, xmin = log_ticks(*xr)
    ymaj, ymin = log_ticks(*yr)
    xexps = [round(math.log10(v)) for v in xmaj]
    yexps = [round(math.log10(v)) for v in ymaj]

    points = alt.Chart(df).mark_square(size=13, opacity=1, clip=True).encode(
        x=alt.X("gamma:Q", scale=xs, axis=alt.Axis(
            orient="bottom", values=xmaj, labelExpr=label_expr(xexps), ticks=False,
            domain=False, grid=False, labelFont=TICK_FONT, labelFontSize=14, labelColor=INK,
            labelPadding=13, labelOverlap=False, labelFlush=False,
            title=X_TITLE, titleFont=FONT, titleFontSize=17, titleFontWeight="normal",
            titleColor=INK, titlePadding=8)),
        y=alt.Y("flux:Q", scale=ys, axis=alt.Axis(
            orient="left", values=ymaj, labelExpr=label_expr(yexps), ticks=False,
            domain=False, grid=False, labelFont=TICK_FONT, labelFontSize=14, labelColor=INK,
            labelPadding=lpad, labelAlign="center", labelOverlap=False, labelFlush=False,
            minExtent=ext, maxExtent=ext,
            title=ytitle, titleFont=FONT, titleFontSize=17, titleFontWeight="normal",
            titleColor=INK, titlePadding=tpad)),
        color=alt.Color("series:N", scale=alt.Scale(domain=SERIES, range=PALETTE), legend=None),
    )

    layers = [points]
    for xo, yo in (("bottom", "left"), ("top", "right")):
        for xv, yv, size in ((xmaj, ymaj, 7), (xmin, ymin, 4)):
            layers.append(alt.Chart(anchor).mark_point(opacity=0).encode(
                x=alt.X("gamma:Q", scale=xs, axis=tick_axis(xo, xv, size)),
                y=alt.Y("flux:Q", scale=ys, axis=tick_axis(yo, yv, size))))

    layers.append(alt.Chart(anchor).mark_text(
        align="left", baseline="alphabetic", font=FONT, fontSize=16, color=INK,
        text="SA100/J18/R12/B").encode(x=alt.value(13), y=alt.value(21)))
    layers.append(alt.Chart(anchor).mark_text(
        align="left", baseline="alphabetic", font=FONT, fontSize=11, fontStyle="italic",
        color=INK, text="P").encode(x=alt.value(130), y=alt.value(25)))
    layers.append(alt.Chart(anchor).mark_text(
        align="left", baseline="alphabetic", font=FONT, fontSize=16, color=INK,
        text="@ " + observer).encode(x=alt.value(142), y=alt.value(21)))

    return alt.layer(*layers).resolve_axis(x="independent", y="independent").properties(
        width=w, height=h)


TW, TH = 328, 320
BW, BH = 322, 323

top_data = [(tl_black, tl_green, tl_orange), (tm_black, tm_green, tm_orange), (tr_black, tr_green, tr_orange)]
bot_data = [(bl_black, bl_green, bl_orange), (bm_black, bm_green, bm_orange), (br_black, br_green, br_orange)]

top_panels = []
for i, (b, g, o) in enumerate(top_data):
    tpad = 7 if i == 0 else 6
    top_panels.append(panel(b, g, o, TOP_X, TOP_Y, RADIO_TITLE, OBSERVERS[i], TW, TH, 34, tpad, 22))
bot_panels = []
for i, (b, g, o) in enumerate(bot_data):
    tpad = 3 if i == 0 else 11
    bot_panels.append(panel(b, g, o, BOT_X, BOT_Y, IR_TITLE, OBSERVERS[i], BW, BH, 38, tpad, 21))

row1 = alt.hconcat(*top_panels, spacing=108, bounds="flush")
row2 = alt.hconcat(*bot_panels, spacing=110, bounds="flush")

chart = alt.concat(row1, row2, columns=1, spacing=3, align="none", bounds="full").properties(
    padding=0, background="white"
).configure_view(stroke="#444444", strokeWidth=1)

chart.save("out.html", embed_options={"renderer": "svg", "actions": False})
